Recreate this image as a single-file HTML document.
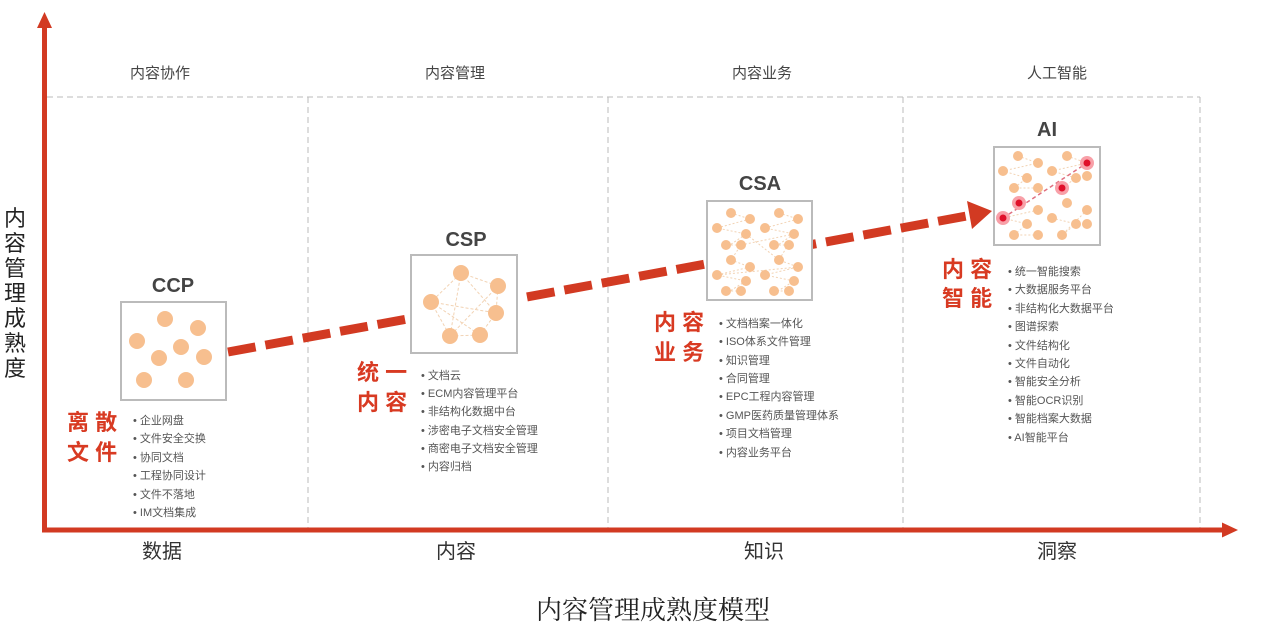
<!DOCTYPE html>
<html><head><meta charset="utf-8"><style>
html,body{margin:0;padding:0;background:#fff;}
svg{display:block;}
text{font-family:"Liberation Sans","Noto Sans CJK SC",sans-serif;}
.h{font-size:15px;fill:#444;text-anchor:middle;}
.b{font-size:20px;fill:#333;text-anchor:middle;}
.lab{font-size:20px;font-weight:bold;fill:#444;text-anchor:middle;}
.red{font-size:22px;font-weight:bold;fill:#d83a22;}
.li{font-size:11px;fill:#555;}
.dot{fill:#f7bf8f;}
</style></head><body>
<svg width="1270" height="637" viewBox="0 0 1270 637" xmlns="http://www.w3.org/2000/svg">
<g stroke="#bbb" stroke-width="1" stroke-dasharray="6,4" fill="none">
<line x1="47" y1="97" x2="1200" y2="97"/>
<line x1="308" y1="97" x2="308" y2="528"/>
<line x1="608" y1="97" x2="608" y2="528"/>
<line x1="903" y1="97" x2="903" y2="528"/>
<line x1="1200" y1="97" x2="1200" y2="528"/>
</g>
<rect x="42" y="26" width="5" height="506" fill="#d23a22"/>
<polygon points="44.5,12 37,28 52,28" fill="#d23a22"/>
<rect x="42" y="527.5" width="1182" height="5" fill="#d23a22"/>
<polygon points="1238,530 1222,522.5 1222,537.5" fill="#d23a22"/>
<text class="h" x="160" y="78">内容协作</text>
<text class="h" x="455" y="78">内容管理</text>
<text class="h" x="762" y="78">内容业务</text>
<text class="h" x="1057" y="78">人工智能</text>
<text class="b" x="162" y="558">数据</text>
<text class="b" x="456" y="558">内容</text>
<text class="b" x="764" y="558">知识</text>
<text class="b" x="1057" y="558">洞察</text>
<text x="653" y="619" text-anchor="middle" style="font-family:'Liberation Serif','Noto Serif CJK SC',serif;font-size:26px;fill:#222">内容管理成熟度模型</text>
<g style="font-size:22px;fill:#222" text-anchor="middle">
<text x="15" y="226">内</text><text x="15" y="251">容</text><text x="15" y="276">管</text><text x="15" y="301">理</text><text x="15" y="326">成</text><text x="15" y="351">熟</text><text x="15" y="376">度</text>
</g>
<line x1="228" y1="352" x2="972" y2="215" stroke="#d23a22" stroke-width="9" stroke-dasharray="28,10"/>
<polygon points="992,211 967,201 972,229" fill="#d23a22"/>
<g fill="#fff" stroke="#bbb" stroke-width="2">
<rect x="121" y="302" width="105" height="98"/>
<rect x="411" y="255" width="106" height="98"/>
<rect x="707" y="201" width="105" height="99"/>
<rect x="994" y="147" width="106" height="98"/>
</g>
<text class="lab" x="173" y="292">CCP</text>
<text class="lab" x="466" y="246">CSP</text>
<text class="lab" x="760" y="190">CSA</text>
<text class="lab" x="1047" y="136">AI</text>
<g class="dot">
<circle cx="165" cy="319" r="8"/><circle cx="198" cy="328" r="8"/><circle cx="137" cy="341" r="8"/>
<circle cx="181" cy="347" r="8"/><circle cx="159" cy="358" r="8"/><circle cx="204" cy="357" r="8"/>
<circle cx="144" cy="380" r="8"/><circle cx="186" cy="380" r="8"/>
</g>
<g stroke="#f2d3b4" stroke-dasharray="3,2" fill="none">
<path d="M461,273 L498,286 L496,313 L480,335 L450,336 L431,302 Z M461,273 L450,336 M461,273 L496,313 M431,302 L496,313 M498,286 L450,336 M431,302 L480,335"/>
</g>
<g class="dot">
<circle cx="461" cy="273" r="8"/><circle cx="498" cy="286" r="8"/><circle cx="431" cy="302" r="8"/>
<circle cx="496" cy="313" r="8"/><circle cx="450" cy="336" r="8"/><circle cx="480" cy="335" r="8"/>
</g>
<g stroke="#f2d3b4" stroke-dasharray="2,2" fill="none">
<path d="M731,213 L750,219 L717,228 L746,234 L730,245 L741,245 L731,260 L750,267 L717,275 L746,281 L730,291 L741,291 M779,213 L798,219 L765,228 L794,234 L778,245 L788,245 L779,260 L798,267 L765,275 L794,281 L778,291 L788,291 M746,234 L779,260 M741,245 L794,234 M717,275 L798,267"/>
</g>
<g class="dot">
<circle cx="731" cy="213" r="5"/><circle cx="750" cy="219" r="5"/><circle cx="717" cy="228" r="5"/><circle cx="746" cy="234" r="5"/><circle cx="726" cy="245" r="5"/><circle cx="741" cy="245" r="5"/>
<circle cx="731" cy="260" r="5"/><circle cx="750" cy="267" r="5"/><circle cx="717" cy="275" r="5"/><circle cx="746" cy="281" r="5"/><circle cx="726" cy="291" r="5"/><circle cx="741" cy="291" r="5"/>
<circle cx="779" cy="213" r="5"/><circle cx="798" cy="219" r="5"/><circle cx="765" cy="228" r="5"/><circle cx="794" cy="234" r="5"/><circle cx="774" cy="245" r="5"/><circle cx="789" cy="245" r="5"/>
<circle cx="779" cy="260" r="5"/><circle cx="798" cy="267" r="5"/><circle cx="765" cy="275" r="5"/><circle cx="794" cy="281" r="5"/><circle cx="774" cy="291" r="5"/><circle cx="789" cy="291" r="5"/>
</g>
<g stroke="#f2d3b4" stroke-dasharray="2,2" fill="none">
<path d="M1018,156 L1038,163 L1003,171 L1027,178 L1014,188 L1038,188 M1067,156 L1087,163 L1052,171 L1076,178 L1062,188 M1038,210 L1003,218 L1027,224 L1014,235 L1038,235 M1052,218 L1076,224 L1062,235 L1087,210"/>
</g>
<line x1="1003" y1="218" x2="1087" y2="163" stroke="#e07080" stroke-width="1.5" stroke-dasharray="4,3"/>
<g class="dot">
<circle cx="1018" cy="156" r="5"/><circle cx="1038" cy="163" r="5"/><circle cx="1003" cy="171" r="5"/><circle cx="1027" cy="178" r="5"/><circle cx="1014" cy="188" r="5"/><circle cx="1038" cy="188" r="5"/>
<circle cx="1067" cy="156" r="5"/><circle cx="1052" cy="171" r="5"/><circle cx="1076" cy="178" r="5"/><circle cx="1087" cy="176" r="5"/>
<circle cx="1038" cy="210" r="5"/><circle cx="1027" cy="224" r="5"/><circle cx="1014" cy="235" r="5"/><circle cx="1038" cy="235" r="5"/>
<circle cx="1067" cy="203" r="5"/><circle cx="1087" cy="210" r="5"/><circle cx="1052" cy="218" r="5"/><circle cx="1076" cy="224" r="5"/><circle cx="1062" cy="235" r="5"/><circle cx="1087" cy="224" r="5"/>
</g>
<g fill="#f8a0a8"><circle cx="1003" cy="218" r="7"/><circle cx="1019" cy="203" r="7"/><circle cx="1062" cy="188" r="7"/><circle cx="1087" cy="163" r="7"/></g>
<g fill="#e0102a"><circle cx="1003" cy="218" r="3.5"/><circle cx="1019" cy="203" r="3.5"/><circle cx="1062" cy="188" r="3.5"/><circle cx="1087" cy="163" r="3.5"/></g>
<text class="red" x="67" y="430">离 散</text><text class="red" x="67" y="460">文 件</text>
<text class="red" x="357" y="380">统 一</text><text class="red" x="357" y="410">内 容</text>
<text class="red" x="654" y="330">内 容</text><text class="red" x="654" y="360">业 务</text>
<text class="red" x="942" y="277">内 容</text><text class="red" x="942" y="306">智 能</text>
<g class="li">
<text x="133" y="424">• 企业网盘</text><text x="133" y="442">• 文件安全交换</text><text x="133" y="461">• 协同文档</text><text x="133" y="479">• 工程协同设计</text><text x="133" y="498">• 文件不落地</text><text x="133" y="516">• IM文档集成</text>
<text x="421" y="379">• 文档云</text><text x="421" y="397">• ECM内容管理平台</text><text x="421" y="415">• 非结构化数据中台</text><text x="421" y="434">• 涉密电子文档安全管理</text><text x="421" y="452">• 商密电子文档安全管理</text><text x="421" y="470">• 内容归档</text>
<text x="719" y="327">• 文档档案一体化</text><text x="719" y="345">• ISO体系文件管理</text><text x="719" y="364">• 知识管理</text><text x="719" y="382">• 合同管理</text><text x="719" y="400">• EPC工程内容管理</text><text x="719" y="419">• GMP医药质量管理体系</text><text x="719" y="437">• 项目文档管理</text><text x="719" y="456">• 内容业务平台</text>
<text x="1008" y="275">• 统一智能搜索</text><text x="1008" y="293">• 大数据服务平台</text><text x="1008" y="312">• 非结构化大数据平台</text><text x="1008" y="330">• 图谱探索</text><text x="1008" y="349">• 文件结构化</text><text x="1008" y="367">• 文件自动化</text><text x="1008" y="385">• 智能安全分析</text><text x="1008" y="404">• 智能OCR识别</text><text x="1008" y="422">• 智能档案大数据</text><text x="1008" y="441">• AI智能平台</text>
</g>
</svg>
</body></html>
